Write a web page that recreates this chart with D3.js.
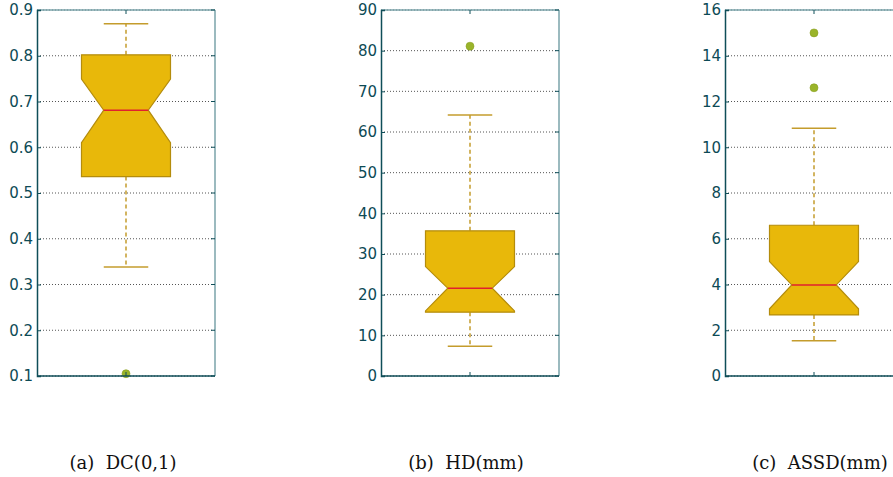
<!DOCTYPE html>
<html>
<head>
<meta charset="utf-8">
<script src="https://cdn.jsdelivr.net/npm/d3@7"></script>
<style>
  html, body { margin: 0; padding: 0; background: #fff; }
  svg { display: block; }
</style>
</head>
<body>
<svg id="chart" width="893" height="477"></svg>
<script>
// Summary statistics of each metric, one box per panel
const metrics   = ["DC(0,1)", "HD(mm)", "ASSD(mm)"];
const captions  = ["(a)  DC(0,1)", "(b)  HD(mm)", "(c)  ASSD(mm)"];
const whiskerLo = [0.338, 7.3, 1.54];
const q1        = [0.536, 15.7, 2.67];
const notchLo   = [0.610, 16.0, 2.94];
const medians   = [0.681, 21.6, 3.98];
const notchHi   = [0.749, 26.9, 5.0];
const q3        = [0.802, 35.7, 6.59];
const whiskerHi = [0.870, 64.2, 10.83];
const outliers  = [[0.105], [81.1], [15.0, 12.6]];

// Axis ranges and tick labels per panel
const yMin   = [0.1, 0, 0];
const yMax   = [0.9, 90, 16];
const yTicks = [
  ["0.1", "0.2", "0.3", "0.4", "0.5", "0.6", "0.7", "0.8", "0.9"],
  ["0", "10", "20", "30", "40", "50", "60", "70", "80", "90"],
  ["0", "2", "4", "6", "8", "10", "12", "14", "16"]
];

const svg = d3.select("#chart");

const panelW = 178, panelTop = 10, panelBottom = 376, panelStep = 344, firstLeft = 37;
const captionX = [123, 466, 820];
const captionY = 469;

const spineDark = "#0f4e58";
const spineLight = "#7aa3aa";
const tickColor = "#0d4a55";
const boxFill = "#e8b80a";
const boxStroke = "#b48c0c";
const whiskerColor = "#c49c2c";
const medianColor = "#e0202e";
const flierColor = "#9ab42a";

metrics.forEach((name, i) => {
  const left = firstLeft + i * panelStep;
  const x = d3.scaleLinear().domain([0.5, 1.5]).range([left, left + panelW]);
  const y = d3.scaleLinear().domain([yMin[i], yMax[i]]).range([panelBottom, panelTop]);
  const tickVals = yTicks[i].map(Number);

  const g = svg.append("g").attr("class", "panel");

  // dotted horizontal grid
  g.append("g").selectAll("line").data(tickVals).join("line")
    .attr("x1", x(0.5)).attr("x2", x(1.5))
    .attr("y1", d => y(d)).attr("y2", d => y(d))
    .attr("stroke", "#555").attr("stroke-width", 1)
    .attr("stroke-dasharray", "1,2");

  // whiskers (dashed) from quartiles to extremes
  const cx = x(1);
  g.append("line").attr("x1", cx).attr("x2", cx)
    .attr("y1", y(q3[i])).attr("y2", y(whiskerHi[i]))
    .attr("stroke", whiskerColor).attr("stroke-width", 1.5).attr("stroke-dasharray", "4,3");
  g.append("line").attr("x1", cx).attr("x2", cx)
    .attr("y1", y(q1[i])).attr("y2", y(whiskerLo[i]))
    .attr("stroke", whiskerColor).attr("stroke-width", 1.5).attr("stroke-dasharray", "4,3");

  // caps
  [whiskerLo[i], whiskerHi[i]].forEach(v => {
    g.append("line").attr("x1", x(0.875)).attr("x2", x(1.125))
      .attr("y1", y(v)).attr("y2", y(v))
      .attr("stroke", whiskerColor).attr("stroke-width", 1.5);
  });

  // notched box
  const bl = x(0.75), br = x(1.25), nl = x(0.875), nr = x(1.125);
  const pts = [
    [bl, y(q1[i])], [br, y(q1[i])], [br, y(notchLo[i])], [nr, y(medians[i])],
    [br, y(notchHi[i])], [br, y(q3[i])], [bl, y(q3[i])], [bl, y(notchHi[i])],
    [nl, y(medians[i])], [bl, y(notchLo[i])]
  ];
  g.append("path").attr("d", d3.line()(pts) + "Z")
    .attr("fill", boxFill).attr("stroke", boxStroke).attr("stroke-width", 1.2)
    .attr("stroke-linejoin", "miter");

  // median
  g.append("line").attr("x1", nl).attr("x2", nr)
    .attr("y1", y(medians[i])).attr("y2", y(medians[i]))
    .attr("stroke", medianColor).attr("stroke-width", 1.5);

  // outliers
  g.append("g").selectAll("circle").data(outliers[i]).join("circle")
    .attr("cx", cx).attr("cy", d => y(d)).attr("r", 4)
    .attr("fill", flierColor).attr("stroke", "#8aa020").attr("stroke-width", 0.6);

  // spines
  g.append("line").attr("x1", x(0.5)).attr("x2", x(1.5)).attr("y1", panelTop).attr("y2", panelTop)
    .attr("stroke", spineLight).attr("stroke-width", 1.5);
  g.append("line").attr("x1", x(1.5)).attr("x2", x(1.5)).attr("y1", panelTop).attr("y2", panelBottom)
    .attr("stroke", spineLight).attr("stroke-width", 1.5);
  g.append("line").attr("x1", x(0.5)).attr("x2", x(1.5)).attr("y1", panelBottom).attr("y2", panelBottom)
    .attr("stroke", spineDark).attr("stroke-width", 1.5);

  // left axis with inward ticks
  const yAxis = d3.axisLeft(y).tickValues(tickVals)
    .tickFormat((d, k) => yTicks[i][k]).tickSize(-4).tickPadding(4);
  const ax = g.append("g").attr("transform", `translate(${x(0.5)},0)`).call(yAxis);
  ax.select(".domain").attr("stroke", spineDark).attr("stroke-width", 1.5);
  ax.selectAll(".tick line").attr("stroke", spineDark);
  ax.selectAll(".tick text")
    .attr("fill", tickColor)
    .style("font-family", "DejaVu Sans, sans-serif").style("font-size", "15px");

  // right-side inward ticks
  g.append("g").selectAll("line").data(tickVals).join("line")
    .attr("x1", x(1.5) - 4).attr("x2", x(1.5))
    .attr("y1", d => y(d)).attr("y2", d => y(d))
    .attr("stroke", spineDark);

  // x ticks at the box position, top and bottom
  g.append("line").attr("x1", cx).attr("x2", cx).attr("y1", panelBottom).attr("y2", panelBottom - 4)
    .attr("stroke", spineDark);
  g.append("line").attr("x1", cx).attr("x2", cx).attr("y1", panelTop).attr("y2", panelTop + 4)
    .attr("stroke", spineDark);

  // subfigure caption
  svg.append("text").attr("x", captionX[i]).attr("y", captionY)
    .attr("text-anchor", "middle")
    .style("font-family", "'DejaVu Serif', 'Liberation Serif', serif")
    .style("font-size", "18px").attr("fill", "#111")
    .style("white-space", "pre")
    .text(captions[i]);
});
</script>
</body>
</html>
